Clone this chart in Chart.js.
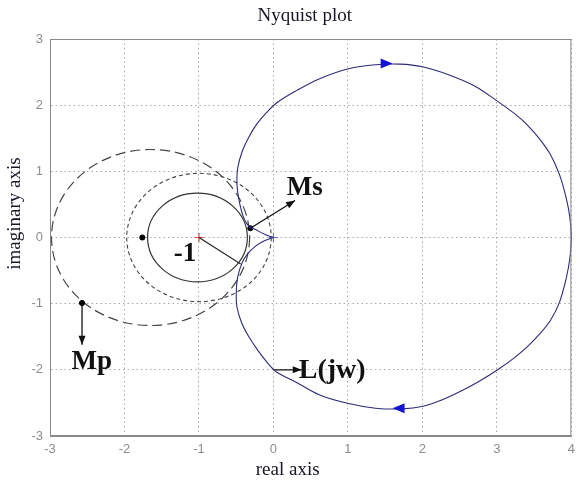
<!DOCTYPE html>
<html>
<head>
<meta charset="utf-8">
<script src="https://cdn.jsdelivr.net/npm/chart.js@4/dist/chart.umd.min.js"></script>
<style>
  html, body { margin: 0; padding: 0; background: #fff; }
  canvas { display: block; }
</style>
</head>
<body>
<canvas id="nyq" width="581" height="481"></canvas>
<script>
// ---- data (real / imaginary parts) ----
const titleText = 'Nyquist plot';
const realAxisLabel = 'real axis';
const imagAxisLabel = 'imaginary axis';
const realTicks = [-3, -2, -1, 0, 1, 2, 3, 4];
const imagTicks = [-3, -2, -1, 0, 1, 2, 3];

// L(jw), negative frequencies: from the origin (w = -inf) round the top to L(0) = 4
const upperRe = [0, -0.12, -0.24, -0.33, -0.40, -0.46, -0.49, -0.48, -0.42, -0.33, -0.22, -0.10, 0.05, 0.31, 0.62, 1.01, 1.37, 1.70, 2.00, 2.35, 2.70, 3.02, 3.25, 3.41, 3.58, 3.72, 3.84, 3.93, 3.98, 4.0];
const upperIm = [0, 0.05, 0.12, 0.17, 0.30, 0.55, 0.80, 1.05, 1.30, 1.52, 1.72, 1.88, 2.04, 2.22, 2.40, 2.55, 2.61, 2.62, 2.58, 2.46, 2.29, 2.05, 1.86, 1.70, 1.48, 1.25, 0.95, 0.60, 0.30, 0];
// L(jw), positive frequencies: from the origin (w = +inf) round the bottom to L(0) = 4
const lowerRe = [0, -0.12, -0.24, -0.35, -0.42, -0.48, -0.50, -0.49, -0.43, -0.33, -0.20, -0.06, 0.05, 0.31, 0.62, 1.01, 1.37, 1.73, 2.01, 2.25, 2.52, 2.78, 3.02, 3.22, 3.41, 3.58, 3.72, 3.84, 3.93, 3.98, 4.0];
const lowerIm = [0, -0.05, -0.13, -0.25, -0.38, -0.60, -0.85, -1.05, -1.28, -1.50, -1.72, -1.92, -2.04, -2.19, -2.38, -2.51, -2.58, -2.59, -2.55, -2.46, -2.32, -2.16, -1.99, -1.83, -1.65, -1.45, -1.25, -0.98, -0.62, -0.31, 0];

// circles: Mp circle (long dash), Ms circle (short dash), 1/Ms distance circle (solid)
const circleRe = [-1.65, -1.0, -1.02];
const circleIm = [0, 0, 0];
const circleRadius = [1.33, 0.97, 0.67];

// black dots
const dotRe = [-1.76, -0.31, -2.57];
const dotIm = [0, 0.14, -0.99];

// critical point and origin
const criticalRe = [-1];
const criticalIm = [0];
const originRe = [0];
const originIm = [0];

// pointer arrows (Ms, Mp, L(jw))
const arrowFromRe = [-0.31, -2.57, 0.0];
const arrowFromIm = [0.14, -0.99, -2.0];
const arrowToRe = [0.29, -2.57, 0.38];
const arrowToIm = [0.56, -1.62, -2.0];

// radius from -1 to the nearest point of L(jw)
const radiusRe = [-1, -0.44];
const radiusIm = [0, -0.40];

// direction markers on L(jw)
const dirRe = [1.52, 1.68];
const dirIm = [2.63, -2.58];
const dirSense = [1, -1];

// annotation texts, anchored at their lower-left corner
const noteText = ['-1', 'Ms', 'Mp', 'L(jw)'];
const noteRe = [-1.34, 0.18, -2.71, 0.34];
const noteIm = [-0.35, 0.635, -1.98, -2.13];

// ---- helpers ----
const pts = (xs, ys) => xs.map((x, i) => ({ x: x, y: ys[i] }));

const circleStyles = [
  { dash: [10, 5], color: '#444', width: 1.2 },
  { dash: [4, 3], color: '#444', width: 1.1 },
  { dash: [], color: '#333', width: 1.2 }
];

const noteFonts = ['bold 27px', 'bold 27px', 'bold 27px', 'bold 28px'];

const serif = '"Liberation Serif", "Times New Roman", serif';

const circlePlugin = {
  id: 'circles',
  beforeDatasetsDraw(chart) {
    const { ctx, chartArea: a, scales: { x, y } } = chart;
    ctx.save();
    ctx.beginPath();
    ctx.rect(a.left, a.top, a.right - a.left, a.bottom - a.top);
    ctx.clip();
    circleRe.forEach((cr, i) => {
      const cx = x.getPixelForValue(cr);
      const cy = y.getPixelForValue(circleIm[i]);
      const rx = Math.abs(x.getPixelForValue(cr + circleRadius[i]) - cx);
      const ry = Math.abs(y.getPixelForValue(circleIm[i] + circleRadius[i]) - cy);
      const s = circleStyles[i];
      ctx.beginPath();
      ctx.setLineDash(s.dash);
      ctx.strokeStyle = s.color;
      ctx.lineWidth = s.width;
      ctx.ellipse(cx, cy, rx, ry, 0, 0, Math.PI * 2);
      ctx.stroke();
    });
    ctx.restore();
  }
};

function arrowHead(ctx, x0, y0, x1, y1, len, half, color) {
  const ang = Math.atan2(y1 - y0, x1 - x0);
  ctx.save();
  ctx.translate(x1, y1);
  ctx.rotate(ang);
  ctx.beginPath();
  ctx.moveTo(0, 0);
  ctx.lineTo(-len, -half);
  ctx.lineTo(-len, half);
  ctx.closePath();
  ctx.fillStyle = color;
  ctx.fill();
  ctx.restore();
}

const notesPlugin = {
  id: 'notes',
  afterDatasetsDraw(chart) {
    const { ctx, scales: { x, y } } = chart;
    ctx.save();
    // arrow heads
    arrowToRe.forEach((r, i) => {
      arrowHead(ctx,
        x.getPixelForValue(arrowFromRe[i]), y.getPixelForValue(arrowFromIm[i]),
        x.getPixelForValue(r), y.getPixelForValue(arrowToIm[i]),
        9, 3.5, '#111');
    });
    // direction triangles on the locus
    dirRe.forEach((r, i) => {
      const px = x.getPixelForValue(r);
      const py = y.getPixelForValue(dirIm[i]);
      arrowHead(ctx, px - dirSense[i] * 10, py, px + dirSense[i] * 6, py, 12, 5, '#1414d2');
    });
    // annotation texts
    ctx.fillStyle = '#111';
    ctx.textAlign = 'left';
    ctx.textBaseline = 'alphabetic';
    noteText.forEach((t, i) => {
      ctx.font = noteFonts[i] + ' ' + serif;
      ctx.fillText(t, x.getPixelForValue(noteRe[i]), y.getPixelForValue(noteIm[i]));
    });
    ctx.restore();
  }
};

const framePlugin = {
  id: 'frame',
  afterDraw(chart) {
    const { ctx, chartArea: a } = chart;
    ctx.save();
    ctx.strokeStyle = '#8a8a8a';
    ctx.lineWidth = 1;
    ctx.setLineDash([]);
    ctx.strokeRect(a.left + 0.5, a.top + 0.5, a.right - a.left - 1, a.bottom - a.top - 1);
    // title and axis titles
    ctx.fillStyle = '#161628';
    ctx.font = '19px ' + serif;
    ctx.textAlign = 'center';
    ctx.textBaseline = 'middle';
    const midX = (a.left + a.right) / 2;
    ctx.fillText(titleText, midX - 6, 16);
    ctx.fillText(realAxisLabel, midX - 23, 470);
    ctx.translate(15, (a.top + a.bottom) / 2 - 24);
    ctx.rotate(-Math.PI / 2);
    ctx.fillText(imagAxisLabel, 0, 0);
    ctx.restore();
  }
};

const lineDs = (data, color, width) => ({
  data: data,
  showLine: true,
  borderColor: color,
  borderWidth: width,
  pointRadius: 0,
  tension: 0,
  fill: false
});

const upperBranch = Object.assign(lineDs(pts(upperRe, upperIm), '#2b2b7a', 1.1), { tension: 0.35, clip: 3 });
const lowerBranch = Object.assign(lineDs(pts(lowerRe, lowerIm), '#2b2b7a', 1.1), { tension: 0.35, clip: 3 });

const datasets = [
  upperBranch,
  lowerBranch,
  lineDs(pts(radiusRe, radiusIm), '#222', 1.1),
  lineDs(pts([arrowFromRe[0], arrowToRe[0]], [arrowFromIm[0], arrowToIm[0]]), '#111', 1.3),
  lineDs(pts([arrowFromRe[1], arrowToRe[1]], [arrowFromIm[1], arrowToIm[1]]), '#111', 1.3),
  lineDs(pts([arrowFromRe[2], arrowToRe[2]], [arrowFromIm[2], arrowToIm[2]]), '#111', 1.3),
  {
    data: pts(dotRe, dotIm), showLine: false,
    pointRadius: 2.6, pointBackgroundColor: '#000', pointBorderColor: '#000'
  },
  {
    data: pts(criticalRe, criticalIm), showLine: false,
    pointStyle: 'cross', pointRadius: 4.5, borderColor: '#d04040', borderWidth: 1.2
  },
  {
    data: pts(originRe, originIm), showLine: false,
    pointStyle: 'cross', pointRadius: 4.5, borderColor: '#6a6ad0', borderWidth: 1.1
  }
];

const gridStyle = {
  color: '#a8a8a8',
  lineWidth: 1,
  drawTicks: false
};

new Chart(document.getElementById('nyq'), {
  type: 'scatter',
  data: { datasets: datasets },
  options: {
    responsive: false,
    animation: false,
    devicePixelRatio: 1,
    layout: { padding: { top: 39, right: 3, left: 0, bottom: 0 } },
    plugins: {
      legend: { display: false },
      title: { display: false },
      tooltip: { enabled: false }
    },
    scales: {
      x: {
        type: 'linear', min: -3, max: 4,
        afterBuildTicks: s => { s.ticks = realTicks.map(v => ({ value: v })); },
        afterFit: s => { s.height = 45; },
        grid: Object.assign({}, gridStyle),
        border: { display: true, color: '#8a8a8a', dash: [1.5, 3] },
        ticks: { color: '#8c8c8c', padding: 6, font: { family: '"Liberation Sans", Arial, sans-serif', size: 13 } }
      },
      y: {
        type: 'linear', min: -3, max: 3,
        afterBuildTicks: s => { s.ticks = imagTicks.map(v => ({ value: v })); },
        afterFit: s => { s.width = 50; },
        grid: Object.assign({}, gridStyle),
        border: { display: true, color: '#8a8a8a', dash: [1.5, 3] },
        ticks: { color: '#8c8c8c', padding: 7, font: { family: '"Liberation Sans", Arial, sans-serif', size: 13 } }
      }
    }
  },
  plugins: [circlePlugin, notesPlugin, framePlugin]
});
</script>
</body>
</html>
